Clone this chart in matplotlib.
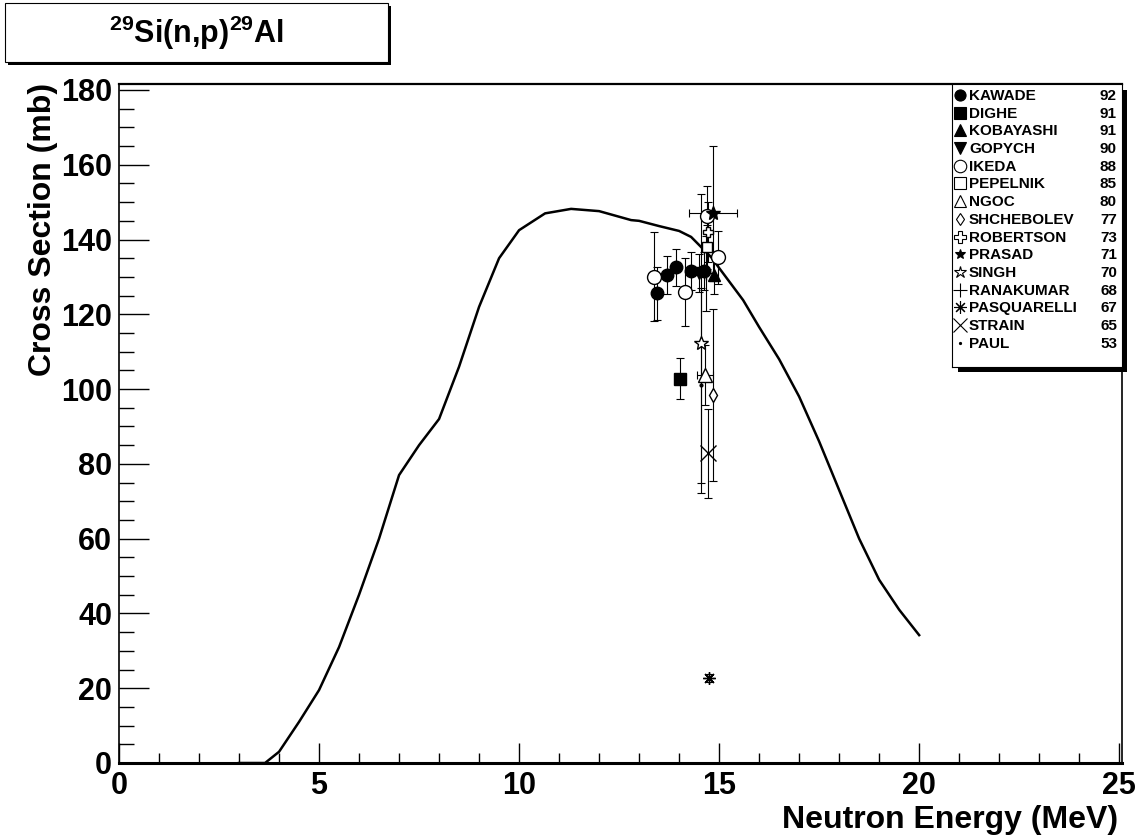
import matplotlib
matplotlib.use("Agg")
import matplotlib.pyplot as plt
import matplotlib.patches as patches
from matplotlib.ticker import MultipleLocator

plt.rcParams['font.family'] = ['Liberation Sans', 'DejaVu Sans']
plt.rcParams['font.weight'] = 'bold'
plt.rcParams['mathtext.fontset'] = 'custom'
plt.rcParams['mathtext.rm'] = 'Liberation Sans:bold'
plt.rcParams['mathtext.it'] = 'Liberation Sans:bold'
plt.rcParams['mathtext.bf'] = 'Liberation Sans:bold'

# evaluated curve (MeV, mb)
curve_e = [3.0, 3.65, 4.0, 4.5, 5.0, 5.5, 6.0, 6.5, 7.0, 7.5, 8.0, 8.5, 9.0, 9.5,
           10.0, 10.65, 11.3, 12.0, 12.8, 13.0, 13.5, 14.0, 14.3, 14.8, 15.0,
           15.6, 16.0, 16.5, 17.0, 17.5, 18.0, 18.5, 19.0, 19.5, 20.0]
curve_xs = [0.0, 0.0, 3.0, 11.0, 19.5, 31.0, 45.0, 60.0, 77.0, 85.0, 92.0, 106.0,
            122.0, 135.0, 142.5, 147.0, 148.2, 147.6, 145.2, 145.0, 143.6, 142.3,
            140.7, 135.3, 132.4, 123.8, 116.6, 108.0, 98.0, 86.0, 73.0, 60.0, 49.0,
            41.0, 34.2]

# experimental sets: name, year, energies, cross sections, errors, energy errors
names = ['KAWADE', 'DIGHE', 'KOBAYASHI', 'GOPYCH', 'IKEDA', 'PEPELNIK', 'NGOC',
         'SHCHEBOLEV', 'ROBERTSON', 'PRASAD', 'SINGH', 'RANAKUMAR', 'PASQUARELLI',
         'STRAIN', 'PAUL']
years = ['92', '91', '91', '90', '88', '85', '80', '77', '73', '71', '70', '68',
         '67', '65', '53']
energies = [[13.45, 13.7, 13.93, 14.3, 14.62], [14.03], [14.87], [14.5],
            [13.38, 14.15, 14.69, 14.96], [14.7], [14.65], [14.84], [14.72],
            [14.84], [14.55], [14.68], [14.75], [14.72], [14.54]]
xsec = [[125.6, 130.5, 132.6, 131.6, 131.6], [102.8], [130.5], [131.0],
        [130.1, 126.0, 146.3, 135.2], [138.0], [103.8], [98.4], [142.0],
        [147.0], [112.2], [131.0], [22.7], [82.8], [101.0]]
xsec_err = [[7.0, 5.0, 5.0, 5.0, 5.0], [5.4], [5.0], [5.0],
            [12.0, 9.0, 8.0, 7.0], [6.0], [8.0], [23.0], [8.0],
            [18.0], [40.0], [10.0], [1.0], [12.0], [26.0]]
e_err = [None, None, None, None, None, None, [0.2], None, None, [0.6], None,
         None, None, None, None]

markers = ['o', 's', '^', 'v', 'o', 's', '^', 'd', 'P', '*', '*', '+',
           (8, 2, 0), 'x', '.']
filled = [True, True, True, True, False, False, False, False, False, True,
          False, True, True, True, True]
msizes = [9, 8.5, 9, 9, 10, 7, 10, 7, 7, 10, 10, 10, 9, 11, 4]

fig = plt.figure(figsize=(11.46, 8.39), dpi=100)
ax = fig.add_axes([119 / 1146, 76 / 839, 1003 / 1146, 679 / 839])

ax.plot(curve_e, curve_xs, color='black', lw=1.8, zorder=3)

for i in range(len(names)):
    mfc = 'black' if filled[i] else 'white'
    ax.errorbar(energies[i], xsec[i], yerr=xsec_err[i], xerr=e_err[i],
                fmt='none', ecolor='black', elinewidth=0.8, capsize=3,
                capthick=0.8, zorder=4)
    ax.plot(energies[i], xsec[i], linestyle='none', marker=markers[i],
            ms=msizes[i], mfc=mfc, mec='black', mew=1.0, zorder=5)

ax.set_xlim(0, 25.07)
ax.set_ylim(0, 181.6)
ax.xaxis.set_major_locator(MultipleLocator(5))
ax.xaxis.set_minor_locator(MultipleLocator(1))
ax.yaxis.set_major_locator(MultipleLocator(20))
ax.yaxis.set_minor_locator(MultipleLocator(5))
ax.tick_params(axis='y', which='major', direction='in', length=21.6, width=1,
               labelsize=22, pad=5)
ax.tick_params(axis='y', which='minor', direction='in', length=10.8, width=1)
ax.tick_params(axis='x', which='major', direction='in', length=14.4, width=1,
               labelsize=22, pad=6)
ax.tick_params(axis='x', which='minor', direction='in', length=7.2, width=1)
for lab in ax.get_xticklabels() + ax.get_yticklabels():
    lab.set_fontweight('bold')
ax.spines['bottom'].set_linewidth(2.2)
ax.spines['top'].set_linewidth(1.6)
ax.spines['left'].set_linewidth(1.2)
ax.spines['right'].set_linewidth(1.2)

fig.text(1118 / 1146, 1 - 820 / 839, 'Neutron Energy (MeV)', ha='right',
         va='center', fontsize=23, fontweight='bold')
fig.text(43 / 1146, 1 - 83 / 839, 'Cross Section (mb)', ha='center', va='top',
         rotation=90, fontsize=23, fontweight='bold')

# title box with shadow
fig.patches.append(patches.Rectangle((8 / 1146, 1 - 65 / 839), 383 / 1146,
                                     59 / 839, transform=fig.transFigure,
                                     facecolor='black', edgecolor='none'))
fig.patches.append(patches.Rectangle((5 / 1146, 1 - 62 / 839), 383 / 1146,
                                     59 / 839, transform=fig.transFigure,
                                     facecolor='white', edgecolor='black',
                                     lw=0.8))
fig.text(196 / 1146, 1 - 33 / 839, r'$^{29}$Si(n,p)$^{29}$Al', ha='center',
         va='center', fontsize=22, fontweight='bold')

# legend box with shadow
fig.patches.append(patches.Rectangle((958 / 1146, 1 - 372 / 839), 169 / 1146,
                                     282 / 839, transform=fig.transFigure,
                                     facecolor='black', edgecolor='none',
                                     zorder=10))
lax = fig.add_axes([952 / 1146, 1 - 367 / 839, 170 / 1146, 283 / 839], zorder=11)
lax.set_xlim(0, 170)
lax.set_ylim(283, 0)
lax.set_xticks([])
lax.set_yticks([])
for s in lax.spines.values():
    s.set_linewidth(0.8)
lms = [8, 8, 8, 8, 9, 9, 9, 6, 9, 7, 9, 10, 9, 10, 3]
for i in range(len(names)):
    yy = 11 + i * 17.7
    mfc = 'black' if filled[i] else 'white'
    lax.plot([8], [yy], marker=markers[i], ms=lms[i], mfc=mfc, mec='black',
             mew=0.8, linestyle='none')
    lax.text(17, yy + 1, names[i], ha='left', va='center', fontsize=11,
             fontweight='bold')
    lax.text(165, yy + 1, years[i], ha='right', va='center', fontsize=11,
             fontweight='bold')

fig.savefig('out.png', dpi=100)
